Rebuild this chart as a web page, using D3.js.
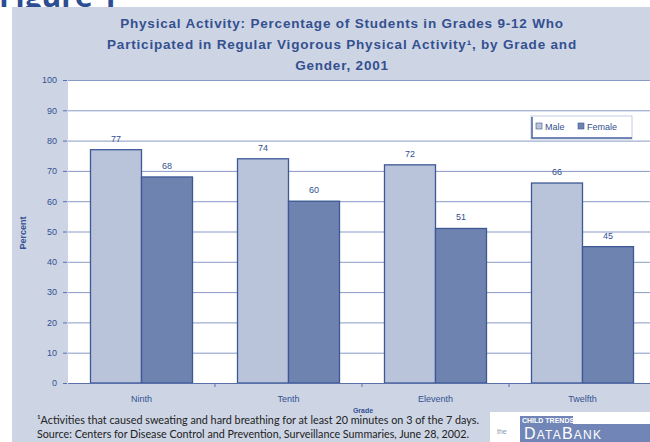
<!DOCTYPE html>
<meta charset="utf-8">
<style>
body { margin: 0; background: #fff; }
svg { display: block; font-family: "Liberation Sans", Arial, sans-serif; }
.grid line { stroke: #8799c6; }
.axis text { fill: #34508f; font-size: 9px; }
.lbl { fill: #34508f; font-size: 9px; text-anchor: middle; }
</style>
<body>
<script src="https://cdn.jsdelivr.net/npm/d3@7"></script>
<script>
// data
var grades = ["Ninth", "Tenth", "Eleventh", "Twelfth"];
var male = [77, 74, 72, 66];
var female = [68, 60, 51, 45];
var series = ["Male", "Female"];
var yTicks = [0, 10, 20, 30, 40, 50, 60, 70, 80, 90, 100];
var titleLines = [
  "Physical Activity: Percentage of Students in Grades 9-12 Who",
  "Participated in Regular Vigorous Physical Activity\u00b9, by Grade and",
  "Gender, 2001"
];

var W = 650, H = 442;
var plot = {left: 68, right: 656, top: 80, bottom: 383};
var fills = {Male: "#b9c4da", Female: "#6f83b1"};
var edge = "#3d5895";

var svg = d3.select("body").append("svg")
    .attr("width", W)
    .attr("height", H);

// heading, cut at the top
svg.append("text")
    .attr("x", -1).attr("y", 7)
    .attr("font-family", "'Open Sans', sans-serif")
    .attr("font-weight", "bold")
    .attr("font-size", 30)
    .attr("fill", "#2c4d92")
    .text("Figure 1");

// panel background (covers the descenders of the heading)
svg.append("rect")
    .attr("x", 12).attr("y", 7)
    .attr("width", W - 12).attr("height", H - 7)
    .attr("fill", "#cdd5e5");

// title
svg.selectAll(".title")
    .data(titleLines)
  .enter().append("text")
    .attr("class", "title")
    .attr("x", 342)
    .attr("y", function(d, i) { return 28 + i * 21; })
    .attr("text-anchor", "middle")
    .attr("font-weight", "bold")
    .attr("font-size", 13.5)
    .attr("letter-spacing", 0.8)
    .attr("fill", "#34508f")
    .text(function(d) { return d; });

// scales
var x = d3.scaleBand()
    .domain(grades)
    .range([plot.left, plot.right])
    .paddingInner(0.306)
    .paddingOuter(0.153);
var x1 = d3.scaleBand()
    .domain(series)
    .range([0, x.bandwidth()]);
var y = d3.scaleLinear()
    .domain([0, 100])
    .range([plot.bottom, plot.top]);

// plot area
svg.append("rect")
    .attr("x", plot.left).attr("y", plot.top)
    .attr("width", plot.right - plot.left)
    .attr("height", plot.bottom - plot.top)
    .attr("fill", "#fff");

// gridlines
svg.append("g")
    .attr("class", "grid")
    .attr("transform", "translate(" + plot.left + ",0)")
    .call(d3.axisLeft(y).tickValues(yTicks)
        .tickSize(-(plot.right - plot.left)).tickFormat(""))
    .call(function(g) { g.select(".domain").remove(); });

// y axis
svg.append("g")
    .attr("class", "axis")
    .attr("transform", "translate(" + (plot.left - 1) + ",0)")
    .call(d3.axisLeft(y).tickValues(yTicks).tickSize(4).tickPadding(6))
    .call(function(g) {
      g.select(".domain").remove();
      g.selectAll("line").attr("stroke", "#5a70a8");
    });

svg.append("text")
    .attr("transform", "translate(26,233) rotate(-90)")
    .attr("text-anchor", "middle")
    .attr("font-size", 9)
    .attr("font-weight", "bold")
    .attr("fill", "#34508f")
    .text("Percent");

// bars
var rows = grades.map(function(g, i) {
  return {grade: g, vals: [{k: "Male", v: male[i]}, {k: "Female", v: female[i]}]};
});

var grp = svg.selectAll(".grp")
    .data(rows)
  .enter().append("g")
    .attr("class", "grp")
    .attr("transform", function(d) { return "translate(" + x(d.grade) + ",0)"; });

grp.selectAll("rect")
    .data(function(d) { return d.vals; })
  .enter().append("rect")
    .attr("x", function(d) { return x1(d.k); })
    .attr("y", function(d) { return y(d.v); })
    .attr("width", x1.bandwidth())
    .attr("height", function(d) { return y(0) - y(d.v); })
    .attr("fill", function(d) { return fills[d.k]; })
    .attr("stroke", edge)
    .attr("stroke-width", 1.3);

grp.selectAll(".lbl")
    .data(function(d) { return d.vals; })
  .enter().append("text")
    .attr("class", "lbl")
    .attr("x", function(d) { return x1(d.k) + x1.bandwidth() / 2; })
    .attr("y", function(d) { return y(d.v) - 8; })
    .text(function(d) { return d.v; });

// x axis
var xa = svg.append("g")
    .attr("class", "axis")
    .attr("transform", "translate(0," + plot.bottom + ")")
    .call(d3.axisBottom(x).tickSize(0).tickPadding(13));
xa.select(".domain").attr("stroke", "#5a70a8").attr("stroke-width", 1.2);
xa.selectAll("text").attr("font-size", 10);
// ticks between groups
xa.selectAll(".sep")
    .data(grades.slice(1))
  .enter().append("line")
    .attr("class", "sep")
    .attr("x1", function(d) { return x(d) - x.step() * x.paddingInner() / 2; })
    .attr("x2", function(d) { return x(d) - x.step() * x.paddingInner() / 2; })
    .attr("y1", 0).attr("y2", 4)
    .attr("stroke", "#5a70a8");

svg.append("text")
    .attr("x", 363).attr("y", 413)
    .attr("text-anchor", "middle")
    .attr("font-size", 7)
    .attr("font-weight", "bold")
    .attr("fill", "#34508f")
    .text("Grade");

// legend
var lg = svg.append("g").attr("transform", "translate(531,116)");
lg.append("rect")
    .attr("width", 101).attr("height", 23)
    .attr("fill", "#fff")
    .attr("stroke", "#c3cce0");
lg.append("path")
    .attr("d", "M1,1V22H101")
    .attr("fill", "none")
    .attr("stroke", "#4a62a0")
    .attr("stroke-width", 1.5);
var li = lg.selectAll(".li")
    .data(series)
  .enter().append("g")
    .attr("transform", function(d, i) { return "translate(" + (5 + i * 42) + ",7)"; });
li.append("rect")
    .attr("width", 6).attr("height", 6)
    .attr("fill", function(d) { return fills[d]; })
    .attr("stroke", edge).attr("stroke-width", 0.6);
li.append("text")
    .attr("x", 9).attr("y", 6.5)
    .attr("font-size", 9)
    .attr("fill", "#34508f")
    .text(function(d) { return d; });

// notes
var notes = [
  "\u00b9Activities that caused sweating and hard breathing for at least 20 minutes on 3 of the 7 days.",
  "Source: Centers for Disease Control and Prevention, Surveillance Summaries, June 28, 2002."
];
svg.selectAll(".note")
    .data(notes)
  .enter().append("text")
    .attr("class", "note")
    .attr("x", 37)
    .attr("y", function(d, i) { return 424 + i * 14; })
    .attr("font-family", "Lato, sans-serif")
    .attr("font-size", 11)
    .attr("fill", "#222")
    .attr("textLength", function(d, i) { return i ? 432 : 442; })
    .attr("lengthAdjust", "spacingAndGlyphs")
    .text(function(d) { return d; });

// logo
var logo = svg.append("g").attr("transform", "translate(490,412)");
logo.append("rect").attr("width", 160).attr("height", 30).attr("fill", "#fff");
logo.append("rect").attr("x", 30).attr("y", 4).attr("width", 53).attr("height", 8).attr("fill", "#7186b6");
logo.append("text")
    .attr("x", 32).attr("y", 10.5)
    .attr("font-size", 7).attr("font-weight", "bold")
    .attr("fill", "#fff")
    .text("CHILD TRENDS");
logo.append("rect").attr("x", 30).attr("y", 12).attr("width", 130).attr("height", 18).attr("fill", "#7186b6");
logo.append("text")
    .attr("x", 7).attr("y", 22)
    .attr("font-size", 7)
    .attr("fill", "#8a96b0")
    .text("the");
var brand = logo.append("text")
    .attr("x", 34).attr("y", 27)
    .attr("fill", "#fff")
    .attr("letter-spacing", 1.2);
brand.append("tspan").attr("font-size", 16).text("D");
brand.append("tspan").attr("font-size", 12).text("ATA");
brand.append("tspan").attr("font-size", 16).text("B");
brand.append("tspan").attr("font-size", 12).text("ANK");
</script>
</body>
